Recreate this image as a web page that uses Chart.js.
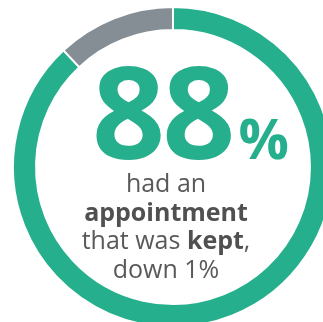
<!DOCTYPE html>
<html>
<head>
<meta charset="utf-8">
<script src="https://cdn.jsdelivr.net/npm/chart.js@4"></script>
<style>
  html, body { margin: 0; padding: 0; background: #fff; overflow: hidden; }
  body { width: 323px; height: 322px; position: relative; font-family: "Open Sans", sans-serif; }
  #chart { position: absolute; left: -7px; top: -13px; }
  .big { position: absolute; left: 92px; top: 46px; display: flex; align-items: baseline;
         color: #26af8c; font-weight: 700; line-height: 1; }
  .big .num { font-size: 128px; letter-spacing: -3px; }
  .big .pct { font-size: 56px; margin-left: 6px; }
  .caption { position: absolute; left: 0; top: 168px; width: 332px; text-align: center;
             color: #595959; font-size: 25px; line-height: 28.7px; }
  .caption b { font-weight: 700; color: #505050; }
</style>
</head>
<body>
<canvas id="chart" width="360" height="360"></canvas>
<div class="big"><span class="num">88</span><span class="pct">%</span></div>
<div class="caption">had an<br><b>appointment</b><br>that was <b>kept</b>,<br>down 1%</div>
<script>
/* ---------- data ---------- */
const labels = ['Kept', 'Not kept'];
const values = [88, 12];
const colors = ['#26af8c', '#858d95'];

/* ---------- chart ---------- */
const ctx = document.getElementById('chart');
new Chart(ctx, {
  type: 'doughnut',
  data: {
    labels,
    datasets: [{
      data: values,
      backgroundColor: colors,
      borderColor: '#ffffff',
      borderWidth: 2
    }]
  },
  options: {
    responsive: false,
    animation: false,
    radius: 160,
    cutout: '85.6%',
    plugins: { legend: { display: false }, tooltip: { enabled: false } }
  }
});
</script>
</body>
</html>
